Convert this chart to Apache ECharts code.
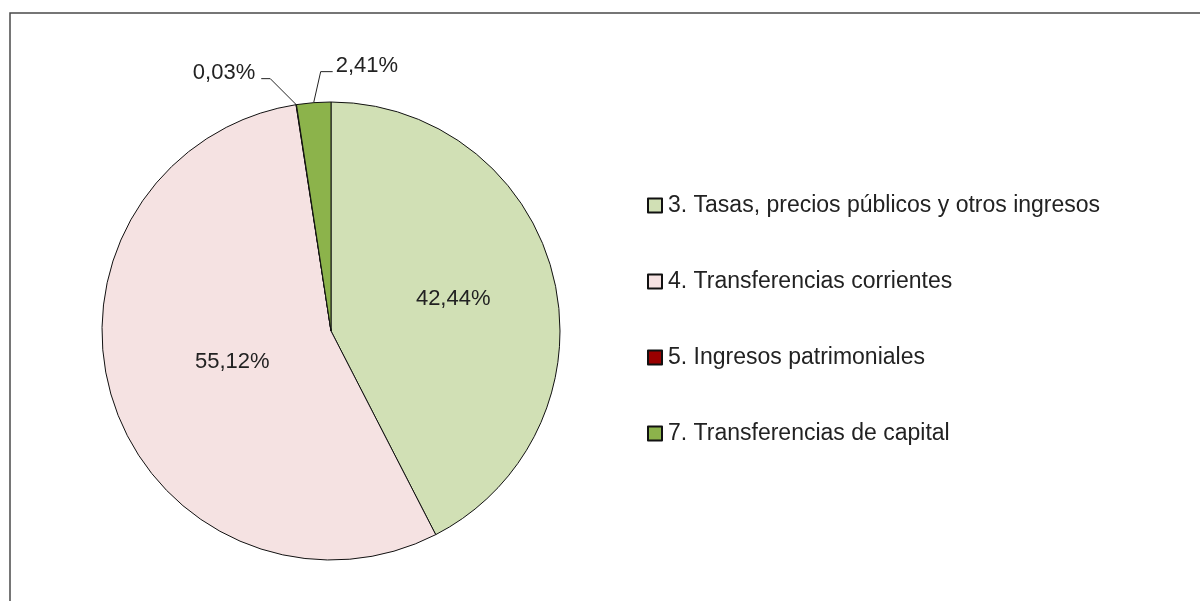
<!DOCTYPE html>
<html>
<head>
<meta charset="utf-8">
<script src="https://cdn.jsdelivr.net/npm/echarts@6/dist/echarts.min.js"></script>
<style>
  html, body { margin: 0; padding: 0; background: #fff; }
  #chart { width: 1200px; height: 601px; }
</style>
</head>
<body>
<div id="chart"></div>
<script>
const categories = [
    '3. Tasas, precios públicos y otros ingresos',
    '4. Transferencias corrientes',
    '5. Ingresos patrimoniales',
    '7. Transferencias de capital'
];
const values = [42.44, 55.12, 0.03, 2.41];
const labels = ['42,44%', '55,12%', '0,03%', '2,41%'];
const colors = ['#d1e0b5', '#f5e2e2', '#990000', '#8cb34b'];

const font = '"Liberation Sans", Arial, sans-serif';

const chart = echarts.init(document.getElementById('chart'));

const seriesData = values.map((v, i) => {
    return {
        name: categories[i],
        value: v,
        itemStyle: { color: colors[i] },
        label: {
            position: v < 5 ? 'outside' : 'inside',
            formatter: labels[i]
        }
    }
});

// leader lines of the small slices, relative to the slice edge point
const leaders = {
    2: { bend: [-26, -26], end: [-9, 0] },
    3: { bend: [7, -31], end: [12, 0] }
};
// nudges of the inside labels
const nudges = {
    0: [8, -4],
    1: [13, -5]
};

const option = {
    animation: false,
    graphic: [{
        type: 'rect',
        shape: { x: 10, y: 13, width: 1300, height: 700 },
        style: { fill: 'none', stroke: '#4a4a4a', lineWidth: 1.5 },
        silent: true
    }],
    legend: {
        orient: 'vertical',
        left: 647,
        top: 194,
        padding: 0,
        itemWidth: 14,
        itemHeight: 14,
        itemGap: 53,
        icon: 'rect',
        textStyle: {
            fontFamily: font,
            fontSize: 23,
            lineHeight: 23,
            color: '#222',
            padding: [0, 0, 0, 1]
        },
        data: categories
    },
    series: [{
        type: 'pie',
        center: [331, 331],
        radius: 229,
        startAngle: 90,
        clockwise: true,
        itemStyle: {
            borderColor: '#111',
            borderWidth: 1
        },
        label: {
            fontFamily: font,
            fontSize: 22,
            color: '#222'
        },
        labelLine: {
            show: true,
            length: 30,
            length2: 10,
            lineStyle: { color: '#222', width: 1 }
        },
        emphasis: { disabled: true },
        data: seriesData,
        labelLayout: function (params) {
            const l = leaders[params.dataIndex];
            if (l && params.labelLinePoints) {
                const p0 = params.labelLinePoints[0];
                const p1 = [p0[0] + l.bend[0], p0[1] + l.bend[1]];
                const p2 = [p1[0] + l.end[0], p1[1] + l.end[1]];
                const toRight = l.end[0] > 0;
                return {
                    x: toRight ? p2[0] + 3 : p2[0] - 6,
                    y: p2[1] - 6,
                    align: toRight ? 'left' : 'right',
                    verticalAlign: 'middle',
                    labelLinePoints: [p0, p1, p2]
                };
            }
            const n = nudges[params.dataIndex] || [0, 0];
            return { dx: n[0], dy: n[1] };
        }
    }]
};

chart.setOption(option);
</script>
</body>
</html>
